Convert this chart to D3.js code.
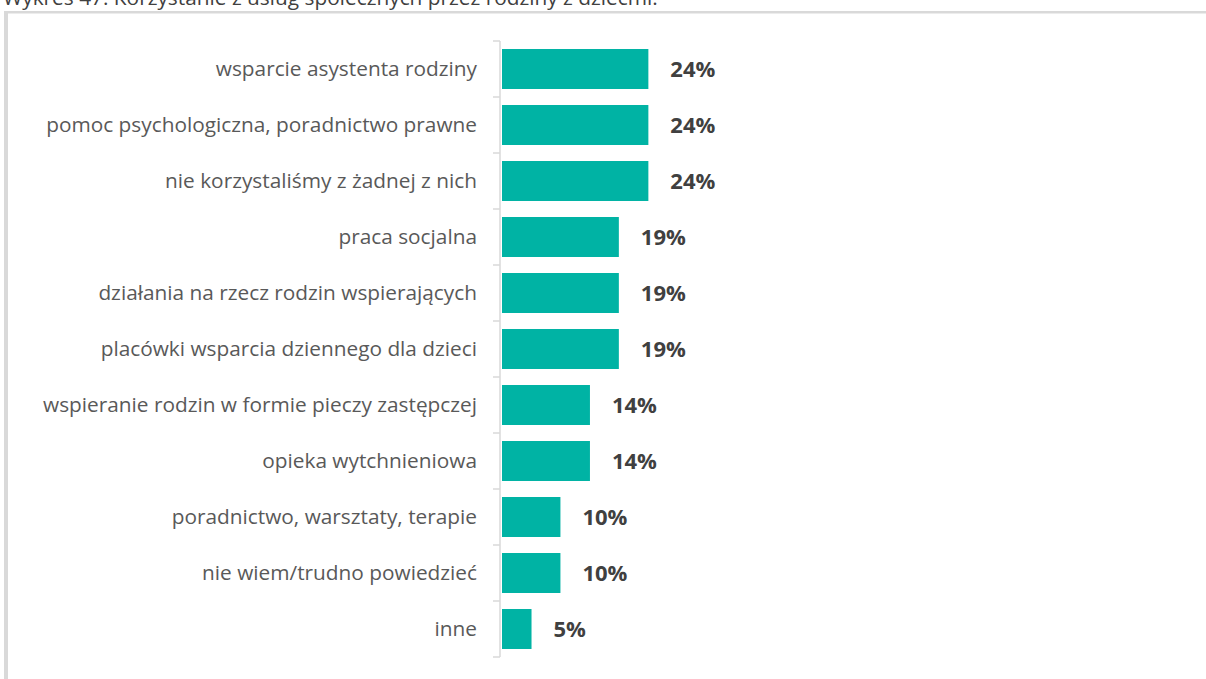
<!DOCTYPE html>
<html><head><meta charset="utf-8">
<script src="https://cdn.jsdelivr.net/npm/d3@7"></script>
<style>html,body{margin:0;padding:0;background:#fff;overflow:hidden}</style>
</head><body>
<svg id="chart" width="1206" height="679"></svg>
<script>
const title = "Wykres 47. Korzystanie z usług społecznych przez rodziny z dziećmi.";
const categories = [
  "wsparcie asystenta rodziny",
  "pomoc psychologiczna, poradnictwo prawne",
  "nie korzystaliśmy z żadnej z nich",
  "praca socjalna",
  "działania na rzecz rodzin wspierających",
  "placówki wsparcia dziennego dla dzieci",
  "wspieranie rodzin w formie pieczy zastępczej",
  "opieka wytchnieniowa",
  "poradnictwo, warsztaty, terapie",
  "nie wiem/trudno powiedzieć",
  "inne"
];
const values = [23.8, 23.8, 23.8, 19.0, 19.0, 19.0, 14.3, 14.3, 9.5, 9.5, 4.8];
const valueLabels = ["24%","24%","24%","19%","19%","19%","14%","14%","10%","10%","5%"];

const svg = d3.select("#chart");
const FONT = "'Open Sans', 'Noto Sans', sans-serif";

// frame
svg.append("rect").attr("x",4).attr("y",11).attr("width",1206).attr("height",2.5).attr("fill","#d9d9d9");
svg.append("rect").attr("x",4).attr("y",11).attr("width",4).attr("height",668).attr("fill","#d9d9d9");

// title (clipped at top, as in the source image)
const t = svg.append("text").attr("x",3).attr("y",5)
  .attr("font-family",FONT).attr("font-size",16).attr("fill","#404040").text(title);
{ const w = t.node().getComputedTextLength(); t.attr("font-size", 16*655/w); }

const y = d3.scaleBand().domain(categories).range([41,657]).paddingInner(0.286).paddingOuter(0.143);
const x = d3.scaleLinear().domain([0,25]).range([502, 502+25*6.15]);

// axis
const ag = svg.append("g").attr("transform","translate(500,0)");
ag.append("line").attr("y1",41).attr("y2",657).attr("stroke","#d9d9d9").attr("stroke-width",1.5);
const bounds = d3.range(categories.length+1).map(i => 41 + i*y.step());
ag.selectAll("line.tick").data(bounds).join("line").attr("class","tick")
  .attr("x1",-7).attr("x2",0).attr("y1",d=>d).attr("y2",d=>d)
  .attr("stroke","#d9d9d9").attr("stroke-width",1.5);

// bars
svg.selectAll("rect.bar").data(values).join("rect").attr("class","bar")
  .attr("x",x(0)).attr("y",(d,i)=>y(categories[i]))
  .attr("width",d=>x(d)-x(0)).attr("height",y.bandwidth())
  .attr("fill","#00b3a4");

// category labels
const cl = svg.selectAll("text.cat").data(categories).join("text").attr("class","cat")
  .attr("x",477).attr("y",d=>y(d)+y.bandwidth()/2).attr("dy","0.35em")
  .attr("text-anchor","end").attr("font-family",FONT).attr("font-size",17)
  .attr("fill","#595959").text(d=>d);
{ const w = cl.nodes()[1].getComputedTextLength(); cl.attr("font-size", 17*431/w); }

// value labels
svg.selectAll("text.val").data(values).join("text").attr("class","val")
  .attr("x",d=>x(d)+22).attr("y",(d,i)=>y(categories[i])+y.bandwidth()/2).attr("dy","0.36em")
  .attr("font-family",FONT).attr("font-size",22).attr("font-weight","bold")
  .attr("fill","#404040").text((d,i)=>valueLabels[i]);
</script>
</body></html>
